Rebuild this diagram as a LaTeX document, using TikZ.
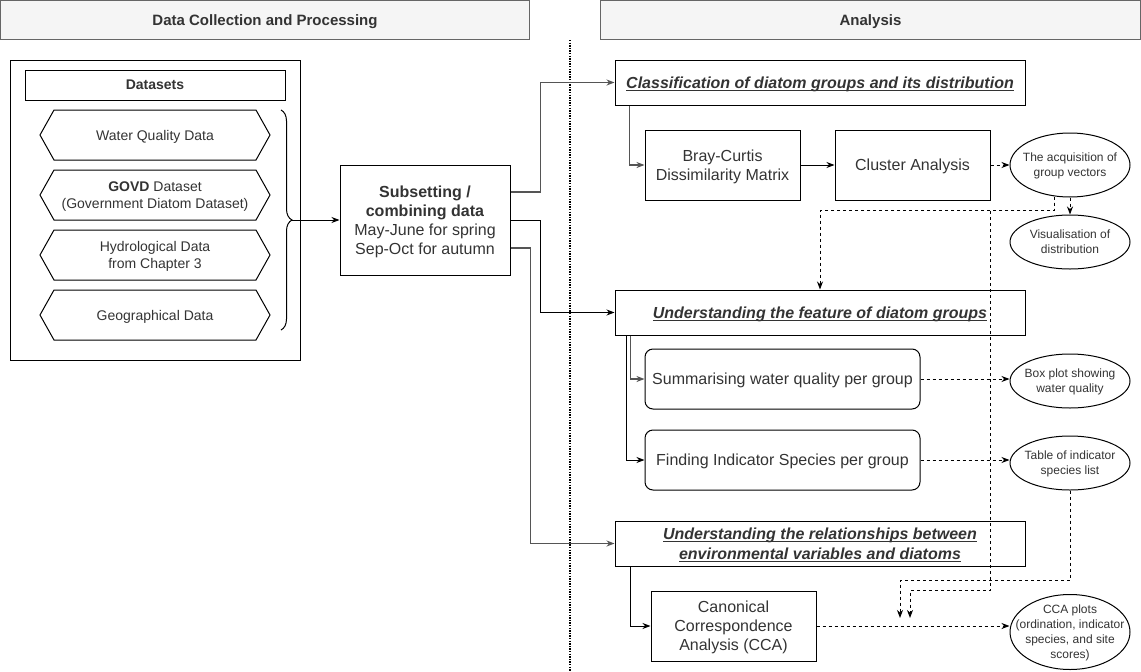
\documentclass[tikz,border=0pt]{standalone}
\usepackage{fontspec}
\setmainfont{Liberation Sans}
\usepackage{xcolor}
\usetikzlibrary{arrows.meta,positioning,shapes.geometric,calc,decorations.pathreplacing}

\definecolor{headfill}{HTML}{F5F5F5}
\definecolor{headline}{HTML}{666666}
\definecolor{wire}{HTML}{555555}
\definecolor{txt}{HTML}{333333}
\newcommand{\tline}[1]{\setbox0\hbox{#1}\rlap{\rule[-2.5pt]{\wd0}{1pt}}\box0}

\begin{document}
\begin{tikzpicture}[x=1pt,y=-1pt,line width=1pt,
  every node/.style={text=txt,inner sep=0pt,align=center,text depth=0pt},
  head/.style={draw=headline,fill=headfill,minimum height=39pt,font=\fontsize{15}{18}\selectfont\bfseries},
  stage/.style={draw,minimum width=410pt,minimum height=45pt,font=\fontsize{16}{20}\selectfont\bfseries\itshape},
  proc/.style={draw,minimum width=155pt,minimum height=70pt,font=\fontsize{16}{19}\selectfont},
  task/.style={proc,rounded corners=8pt,minimum width=275pt,minimum height=60pt},
  result/.style={draw,ellipse,inner xsep=-16pt,inner ysep=-8pt,minimum width=120pt,minimum height=54pt,font=\fontsize{12}{15}\selectfont},
  hexlabel/.style={font=\fontsize{14}{17}\selectfont},
  arr/.style={-{Stealth[length=8pt,width=6pt,inset=2.5pt]}},
  gwire/.style={arr,draw=wire,line width=1.2pt},
  dsh/.style={arr,dash pattern=on 3pt off 3pt}]
\useasboundingbox (0,0) rectangle (1141,672);

% headers
\node[head,minimum width=529pt] (hdata) at (265,20) {Data Collection and Processing};
\node[head,minimum width=540pt] (hana) at (870.5,20) {Analysis};
\draw[line width=1.3pt,dash pattern=on 1.3pt off 1.3pt] (570,40) -- (570,672);

% datasets
\node[draw,minimum width=290pt,minimum height=300pt] (dframe) at (155,210) {};
\node[draw,minimum width=260pt,minimum height=30pt,font=\fontsize{14}{17}\selectfont\bfseries] (dsets) at (155,85) {Datasets};
\foreach \y/\name/\txt in {135/wq/{Water Quality Data},
  195/govd/{\textbf{GOVD} Dataset\\(Government Diatom Dataset)},
  255/hydro/{Hydrological Data\\from Chapter 3},
  315/geo/{Geographical Data}}{
  \node[hexlabel] (\name) at (155,\y) {\txt};
  \draw (40,\y) -- (54,\y-25) -- (256,\y-25) -- (270,\y) -- (256,\y+25) -- (54,\y+25) -- cycle;
}
\draw[decorate,decoration={brace,amplitude=11pt}] (281,110) -- (281,330);
\coordinate (brtip) at (292,220);

\node[proc,minimum width=170pt,minimum height=110pt] (sub) at (425,220)
  {\textbf{Subsetting /}\\\textbf{combining data}\\May-June for spring\\Sep-Oct for autumn};
\draw[arr] (brtip) -- (sub);

% analysis stages
\node[stage] (cls) at (820,82.5) {\tline{Classification of diatom groups and its distribution}};
\node[stage] (feat) at (820,312.5) {\tline{Understanding the feature of diatom groups}};
\node[stage] (rel) at (820,543.5) {\tline{Understanding the relationships between}\\\tline{environmental variables and diatoms}};

\draw[gwire] ($(sub.east)+(0,-28)$) -- ++(30,0) |- (cls.west);
\draw[arr] (sub.east) -- ++(30,0) |- (feat.west);
\draw[gwire] ($(sub.east)+(0,28)$) -- ++(20,0) |- (rel.west);

% classification
\node[proc] (bray) at (722.5,165) {Bray-Curtis\\Dissimilarity Matrix};
\node[proc] (clus) at (912.5,165) {Cluster Analysis};
\node[result,minimum height=64pt] (e1) at (1070,165) {The acquisition of\\group vectors};
\node[result] (e2) at (1070,242) {Visualisation of\\distribution};
\draw[gwire] ($(cls.south west)+(15,0)$) |- (bray.west);
\draw[arr] (bray) -- (clus);
\draw[dsh] (clus) -- (e1);
\draw[dsh] (e1) -- (e2);
\coordinate (e1out) at ($(e1.south)+(-16,-1)$);
\draw[dsh] (e1out) -- ++(0,14) -| (feat.north);

% features
\node[task] (summ) at (782.5,379) {Summarising water quality per group};
\node[task] (find) at (782.5,460) {Finding Indicator Species per group};
\node[result] (e3) at (1070,381) {Box plot showing\\water quality};
\node[result] (e4) at (1070,463) {Table of indicator\\species list};
\draw[gwire] ($(feat.south west)+(16,0)$) |- (summ.west);
\draw[arr] ($(feat.south west)+(12,0)$) |- (find.west);
\draw[dsh] (summ.east) -- (summ.east -| e3.west);
\draw[dsh] (find.east) -- (find.east -| e4.west);

% relationships
\node[proc,minimum width=165pt] (cca) at (733.5,626) {Canonical\\Correspondence\\Analysis (CCA)};
\node[result,minimum height=75pt] (e5) at (1070,632) {CCA plots\\(ordination, indicator\\species, and site\\scores)};
\draw[arr] ($(rel.south west)+(16,0)$) |- (cca.west);
\draw[dsh] (cca.east) -- (cca.east -| e5.west);
\coordinate (ccain1) at (910,618);
\coordinate (ccain2) at (900,618);
\draw[dsh] (e1out) |- ($(clus.south east)+(0,10)$) |- ($(ccain1)+(0,-28)$) -- (ccain1);
\draw[dsh] (e4.south) |- ($(ccain2)+(0,-38)$) -- (ccain2);
\end{tikzpicture}
\end{document}
